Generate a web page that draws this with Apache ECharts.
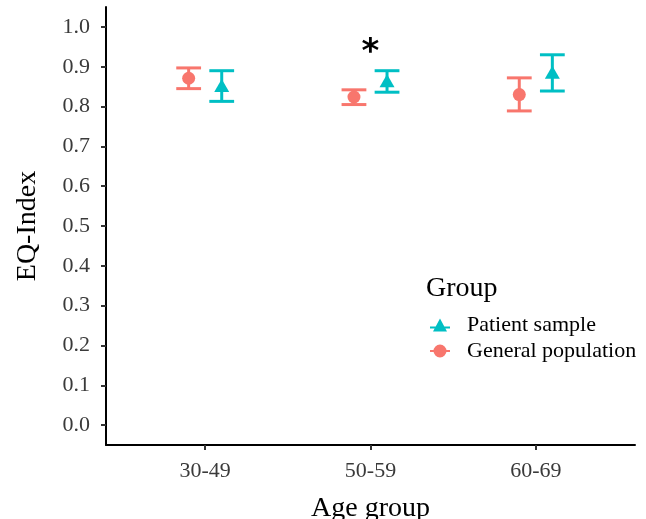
<!DOCTYPE html>
<html>
<head>
<meta charset="utf-8">
<script src="https://cdn.jsdelivr.net/npm/echarts@6/dist/echarts.min.js"></script>
<style>
  html, body { margin: 0; padding: 0; background: #fff; }
  #main { width: 646px; height: 519px; }
</style>
</head>
<body>
<div id="main"></div>
<script>
// data
var ageGroups = ["30-49", "50-59", "60-69"];
var generalMean = [0.871, 0.824, 0.830];
var generalLow = [0.845, 0.805, 0.789];
var generalHigh = [0.897, 0.842, 0.872];
var patientMean = [0.853, 0.865, 0.886];
var patientLow = [0.813, 0.836, 0.839];
var patientHigh = [0.890, 0.890, 0.930];
var yTicks = [0, 0.1, 0.2, 0.3, 0.4, 0.5, 0.6, 0.7, 0.8, 0.9, 1.0];
var starGroup = "50-59";
var starValue = 0.935;

var dodge = 0.1;
var pink = "#F8766D";
var teal = "#00BFC4";
var serif = "Liberation Serif";

function rows(mean, low, high, off) {
  var out = [];
  for (var i = 0; i < ageGroups.length; i++) {
    out.push([i + 1 + off, mean[i], low[i], high[i]]);
  }
  return out;
}
var generalRows = rows(generalMean, generalLow, generalHigh, -dodge);
var patientRows = rows(patientMean, patientLow, patientHigh, dodge);

function errorBar(color) {
  return function (params, api) {
    var x = api.value(0);
    var lo = api.coord([x, api.value(2)]);
    var hi = api.coord([x, api.value(3)]);
    var half = api.size([0.15, 0])[0] / 2;
    var style = { stroke: color, lineWidth: 3, fill: null };
    return {
      type: "group",
      children: [
        { type: "line", shape: { x1: lo[0], y1: lo[1], x2: hi[0], y2: hi[1] }, style: style },
        { type: "line", shape: { x1: lo[0] - half, y1: lo[1], x2: lo[0] + half, y2: lo[1] }, style: style },
        { type: "line", shape: { x1: hi[0] - half, y1: hi[1], x2: hi[0] + half, y2: hi[1] }, style: style }
      ]
    };
  };
}

// legend keys: point with a short horizontal bar through it, like ggplot's
var triIcon = "path://M0,9 L20,9 L20,11 L0,11 Z M10,1 L17,14 L3,14 Z";
var dotIcon = "path://M0,9 L20,9 L20,11 L0,11 Z M10,3.5 A6.5,6.5 0 1 1 9.99,3.5 Z";

var myChart = echarts.init(document.getElementById("main"));
myChart.setOption({
  animation: false,
  textStyle: { fontFamily: serif },
  grid: { left: 106, right: 11, top: 7, bottom: 74, outerBoundsMode: "none", containLabel: false },
  title: {
    text: "Group",
    left: 421,
    top: 270,
    textStyle: { fontFamily: serif, fontSize: 28, fontWeight: "normal", color: "#000" }
  },
  legend: {
    orient: "vertical",
    left: 425,
    top: 309,
    itemWidth: 20,
    itemHeight: 15,
    itemGap: 4,
    textStyle: { fontFamily: serif, fontSize: 22, color: "#000", padding: [0, 0, 0, 12] },
    data: [
      { name: "Patient sample", icon: triIcon, itemStyle: { color: teal } },
      { name: "General population", icon: dotIcon, itemStyle: { color: pink } }
    ]
  },
  xAxis: {
    type: "value",
    min: 0.4,
    max: 3.6,
    name: "Age group",
    nameLocation: "middle",
    nameGap: 50,
    nameTextStyle: { fontFamily: serif, fontSize: 28, color: "#000" },
    splitLine: { show: false },
    axisLine: { onZero: false, lineStyle: { color: "#000", width: 2 } },
    axisTick: { customValues: [1, 2, 3], length: 5, lineStyle: { color: "#333", width: 2 } },
    axisLabel: {
      customValues: [1, 2, 3],
      margin: 15,
      fontFamily: serif,
      fontSize: 22,
      color: "#3a3a3a",
      formatter: function (v) { return ageGroups[Math.round(v) - 1]; }
    }
  },
  yAxis: {
    type: "value",
    min: -0.05,
    max: 1.05,
    name: "EQ-Index",
    nameLocation: "middle",
    nameRotate: 90,
    nameGap: 64,
    nameTextStyle: { fontFamily: serif, fontSize: 28, color: "#000" },
    splitLine: { show: false },
    axisLine: { show: true, onZero: false, lineStyle: { color: "#000", width: 2 } },
    axisTick: { show: true, customValues: yTicks, length: 5, lineStyle: { color: "#333", width: 2 } },
    axisLabel: {
      customValues: yTicks,
      margin: 16,
      fontFamily: serif,
      fontSize: 22,
      color: "#3a3a3a",
      formatter: function (v) { return v.toFixed(1); }
    }
  },
  series: [
    {
      name: "General population",
      type: "custom",
      renderItem: errorBar(pink),
      encode: { x: 0, y: [2, 3] },
      data: generalRows,
      z: 2
    },
    {
      name: "Patient sample",
      type: "custom",
      renderItem: errorBar(teal),
      encode: { x: 0, y: [2, 3] },
      data: patientRows,
      z: 2
    },
    {
      name: "General population",
      type: "scatter",
      symbol: "circle",
      symbolSize: 13,
      itemStyle: { color: pink, opacity: 1 },
      data: generalRows.map(function (r) { return [r[0], r[1]]; }),
      z: 3
    },
    {
      name: "Patient sample",
      type: "scatter",
      symbol: "triangle",
      symbolSize: [15, 13],
      itemStyle: { color: teal, opacity: 1 },
      data: patientRows.map(function (r) { return [r[0], r[1]]; }),
      z: 3
    },
    {
      name: "significance",
      type: "scatter",
      symbol: "circle",
      symbolSize: 2,
      silent: true,
      itemStyle: { color: "rgba(0,0,0,0)" },
      label: {
        show: true,
        position: "inside",
        formatter: "*",
        fontFamily: "DejaVu Sans",
        fontWeight: "bold",
        fontSize: 34,
        color: "#000",
        opacity: 1
      },
      data: [[ageGroups.indexOf(starGroup) + 1, starValue]],
      z: 4
    }
  ]
});
</script>
</body>
</html>
